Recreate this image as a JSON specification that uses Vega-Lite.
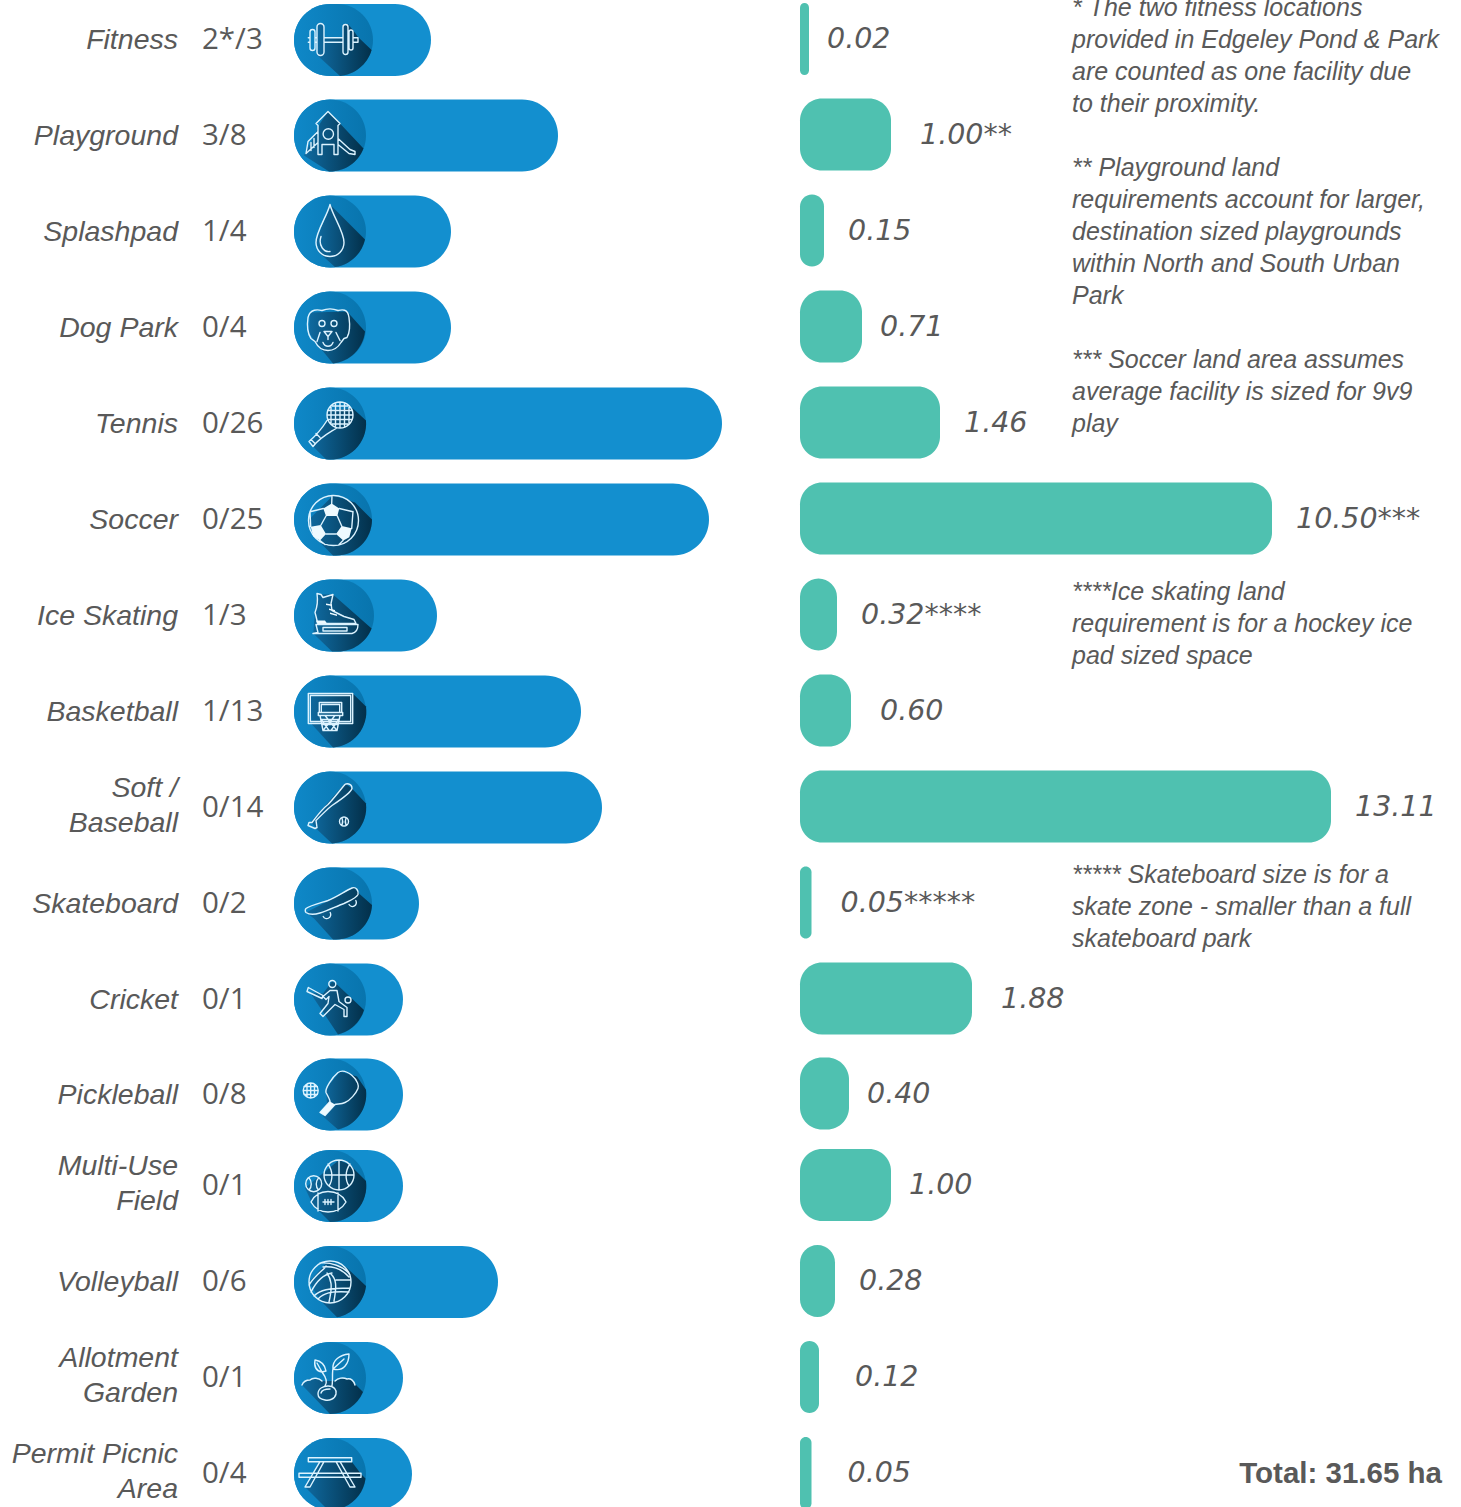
{
  "$schema": "https://vega.github.io/schema/vega-lite/v6.json",
  "width": 1461,
  "height": 1507,
  "padding": 0,
  "autosize": {"type": "none"},
  "background": "white",
  "config": {"view": {"stroke": null}},
  "datasets": {
    "facilities": [
      {"row": 1, "facility": "Fitness", "label": "Fitness", "count": "2*/3", "relative_length": 137, "ha": 0.02, "ha_label": "0.02"},
      {"row": 2, "facility": "Playground", "label": "Playground", "count": "3/8", "relative_length": 264, "ha": 1.0, "ha_label": "1.00**"},
      {"row": 3, "facility": "Splashpad", "label": "Splashpad", "count": "1/4", "relative_length": 157, "ha": 0.15, "ha_label": "0.15"},
      {"row": 4, "facility": "Dog Park", "label": "Dog Park", "count": "0/4", "relative_length": 157, "ha": 0.71, "ha_label": "0.71"},
      {"row": 5, "facility": "Tennis", "label": "Tennis", "count": "0/26", "relative_length": 428, "ha": 1.46, "ha_label": "1.46"},
      {"row": 6, "facility": "Soccer", "label": "Soccer", "count": "0/25", "relative_length": 415, "ha": 10.5, "ha_label": "10.50***"},
      {"row": 7, "facility": "Ice Skating", "label": "Ice Skating", "count": "1/3", "relative_length": 143, "ha": 0.32, "ha_label": "0.32****"},
      {"row": 8, "facility": "Basketball", "label": "Basketball", "count": "1/13", "relative_length": 287, "ha": 0.6, "ha_label": "0.60"},
      {"row": 9, "facility": "Softball", "label": "Soft /\nBaseball", "count": "0/14", "relative_length": 308, "ha": 13.11, "ha_label": "13.11"},
      {"row": 10, "facility": "Skateboard", "label": "Skateboard", "count": "0/2", "relative_length": 125, "ha": 0.05, "ha_label": "0.05*****"},
      {"row": 11, "facility": "Cricket", "label": "Cricket", "count": "0/1", "relative_length": 109, "ha": 1.88, "ha_label": "1.88"},
      {"row": 12, "facility": "Pickleball", "label": "Pickleball", "count": "0/8", "relative_length": 109, "ha": 0.4, "ha_label": "0.40"},
      {"row": 13, "facility": "Multi-Use", "label": "Multi-Use\nField", "count": "0/1", "relative_length": 109, "ha": 1.0, "ha_label": "1.00"},
      {"row": 14, "facility": "Volleyball", "label": "Volleyball", "count": "0/6", "relative_length": 204, "ha": 0.28, "ha_label": "0.28"},
      {"row": 15, "facility": "Allotment", "label": "Allotment\nGarden", "count": "0/1", "relative_length": 109, "ha": 0.12, "ha_label": "0.12"},
      {"row": 16, "facility": "Picnic", "label": "Permit Picnic\nArea", "count": "0/4", "relative_length": 118, "ha": 0.05, "ha_label": "0.05"}
    ],
    "notes": [
      {"row": 0.665, "note": "* The two fitness locations\nprovided in Edgeley Pond & Park\nare counted as one facility due\nto their proximity."},
      {"row": 2.339, "note": "** Playground land\nrequirements account for larger,\ndestination sized playgrounds\nwithin North and South Urban\nPark"},
      {"row": 4.339, "note": "*** Soccer land area assumes\naverage facility is sized for 9v9\nplay"},
      {"row": 6.755, "note": "****Ice skating land\nrequirement is for a hockey ice\npad sized space"},
      {"row": 9.703, "note": "***** Skateboard size is for a\nskate zone - smaller than a full\nskateboard park"}
    ],
    "total": [{"row": 16, "text": "Total: 31.65 ha"}]
  },
  "encoding": {
    "y": {
      "field": "row",
      "type": "quantitative",
      "axis": null,
      "scale": {
        "domain": [1, 2, 3, 4, 5, 6, 7, 8, 9, 10, 11, 12, 13, 14, 15, 16],
        "range": [40, 135.5, 231.5, 327.5, 423.5, 519.5, 615.5, 711.5, 807.5, 903.5, 999.5, 1094.5, 1186, 1282, 1378, 1474],
        "zero": false,
        "nice": false,
        "padding": 0
      }
    }
  },
  "resolve": {"scale": {"x": "independent"}},
  "layer": [
    {
      "data": {"name": "facilities"},
      "resolve": {"scale": {"shape": "independent"}},
      "layer": [
        {
          "mark": {"type": "bar", "orient": "horizontal", "height": 72, "cornerRadius": 36, "color": "#138fcf"},
          "encoding": {
            "x": {"field": "relative_length", "type": "quantitative", "axis": null, "stack": null, "scale": {"domain": [0, 428], "range": [294, 722], "nice": false, "zero": false, "padding": 0}}
          }
        },
        {
          "mark": {"type": "point", "filled": true, "size": 4, "opacity": 1, "xOffset": 36, "strokeWidth": 0,
            "fill": {"gradient": "linear", "x1": 0, "y1": 0, "x2": 1, "y2": 0, "stops": [{"offset": 0, "color": "#0f88c8"}, {"offset": 1, "color": "#0874ad"}]}},
          "encoding": {
            "x": {"datum": 0, "type": "quantitative"},
            "shape": {"field": "facility", "type": "nominal", "legend": null, "scale": {
              "domain": ["Fitness", "Playground", "Splashpad", "Dog Park", "Tennis", "Soccer", "Ice Skating", "Basketball", "Softball", "Skateboard", "Cricket", "Pickleball", "Multi-Use", "Volleyball", "Allotment", "Picnic"],
              "range": [
                "M-36 0A36 36 0 0 1 0 -36L7 -36A36 36 0 0 1 43 0A36 36 0 0 1 7 36L0 36A36 36 0 0 1 -36 0Z",
                "M-36 0A36 36 0 1 1 36 0A36 36 0 1 1 -36 0Z",
                "M-36 0A36 36 0 1 1 36 0A36 36 0 1 1 -36 0Z",
                "M-36 0A36 36 0 1 1 36 0A36 36 0 1 1 -36 0Z",
                "M-36 0A36 36 0 1 1 36 0A36 36 0 1 1 -36 0Z",
                "M-36 0A36 36 0 0 1 0 -36L6 -36A36 36 0 0 1 42 0A36 36 0 0 1 6 36L0 36A36 36 0 0 1 -36 0Z",
                "M-36 0A36 36 0 0 1 0 -36L8 -36A36 36 0 0 1 44 0A36 36 0 0 1 8 36L0 36A36 36 0 0 1 -36 0Z",
                "M-36 0A36 36 0 1 1 36 0A36 36 0 1 1 -36 0Z",
                "M-36 0A36 36 0 1 1 36 0A36 36 0 1 1 -36 0Z",
                "M-36 0A36 36 0 0 1 0 -36L6 -36A36 36 0 0 1 42 0A36 36 0 0 1 6 36L0 36A36 36 0 0 1 -36 0Z",
                "M-36 0A36 36 0 1 1 36 0A36 36 0 1 1 -36 0Z",
                "M-36 0A36 36 0 1 1 36 0A36 36 0 1 1 -36 0Z",
                "M-36 0A36 36 0 1 1 36 0A36 36 0 1 1 -36 0Z",
                "M-36 0A36 36 0 1 1 36 0A36 36 0 1 1 -36 0Z",
                "M-36 0A36 36 0 1 1 36 0A36 36 0 1 1 -36 0Z",
                "M-36 0A36 36 0 1 1 36 0A36 36 0 1 1 -36 0Z"
              ]
            }}
          }
        },
        {
          "mark": {"type": "point", "filled": true, "size": 4, "opacity": 1, "xOffset": 36, "strokeWidth": 0,
            "fill": {"gradient": "linear", "x1": 0, "y1": 0, "x2": 1, "y2": 0, "stops": [{"offset": 0, "color": "#0f6aa0"}, {"offset": 1, "color": "#03304a"}]}},
          "encoding": {
            "x": {"datum": 0, "type": "quantitative"},
            "shape": {"field": "facility", "type": "nominal", "legend": null, "scale": {
              "domain": ["Fitness", "Playground", "Splashpad", "Dog Park", "Tennis", "Soccer", "Ice Skating", "Basketball", "Softball", "Skateboard", "Cricket", "Pickleball", "Multi-Use", "Volleyball", "Allotment", "Picnic"],
              "range": [
                "M-13 -16L-6 -16L-6 -2.3L13 -2.3L13 -16L18 -16L23 -10L28 -3L41.6 10A36 36 0 0 1 10 35.9L-13 15Z",
                "M-2 -24L10 -12L33.5 13A36 36 0 0 1 -1 36L-26 20L-18 5L-10 -12Z",
                "M0 -27L35 8A36 36 0 0 1 5 35.6L-10 22L-14 10Z",
                "M-20 -15L17 -16L35 4A36 36 0 0 1 3 36L-15 14L-21 5Z",
                "M-3 -13L23 -15L36 -3A36 36 0 0 1 -4 35.8L-20 20L-3 -2Z",
                "M3 -24L25 -17L42 0A36 36 0 0 1 6 36L3 36L-14 19L-22 1Z",
                "M-13 -21L3 -21L41.6 13A36 36 0 0 1 8 36L2 36L-16.7 18L-15 -5Z",
                "M-21 -17L22.7 -18L36 -5A36 36 0 0 1 3 36L-18 13Z",
                "M15 -24L22 -19L36 -4A36 36 0 0 1 2 36L-14 21L-19 14Z",
                "M24 -16L29 -10L42 1.5A36 36 0 0 1 6 36L3 36L-16 15L-24 9Z",
                "M-20 -7L-7 -6L2 -18L7 -15L34 10.5A36 36 0 0 1 8 35Z",
                "M10 -23L27 -18L36 -4.7A36 36 0 0 1 8 35L-7 22L-3 10L-4 -6Z",
                "M9 -26L20 -21L36 -5A36 36 0 0 1 0 36L-17 19L-25 2Z",
                "M-2 -21L17 -14L36 4A36 36 0 0 1 7 35.3L-10 18L-21 0Z",
                "M-28 7C-24 0 -14 -1 -8 3L6 3C12 -1 21 -1 25 6L33 14A36 36 0 0 1 0 36Z",
                "M-10 -12L22 -12L31 0L35.5 4.5A36 36 0 0 1 -2 36L-25 13Z"
              ]
            }}
          }
        },
        {
          "mark": {"type": "point", "filled": false, "size": 4, "opacity": 1, "xOffset": 36, "stroke": "#dcf3ff", "strokeWidth": 1.4, "strokeJoin": "round", "strokeCap": "round"},
          "encoding": {
            "x": {"datum": 0, "type": "quantitative"},
            "shape": {"field": "facility", "type": "nominal", "legend": null, "scale": {
              "domain": ["Fitness", "Playground", "Splashpad", "Dog Park", "Tennis", "Soccer", "Ice Skating", "Basketball", "Softball", "Skateboard", "Cricket", "Pickleball", "Multi-Use", "Volleyball", "Allotment", "Picnic"],
              "range": [
                "M-21.7 -2.3L-20 -2.3M-15 -2.3L-13 -2.3M-6 -2.3L13 -2.3M18 -2.3L19 -2.3M23 -2.3L28 -2.3L28 2.3L23 2.3M19 2.3L18 2.3M13 2.3L-6 2.3M-13 2.3L-15 2.3M-20 2.3L-21.7 2.3ZM-20 -8A2.5 2.5 0 0 1 -15 -8L-15 8A2.5 2.5 0 0 1 -20 8ZM-13 -13A3.5 3.5 0 0 1 -6 -13L-6 12A3.5 3.5 0 0 1 -13 12ZM13 -13A2.5 2.5 0 0 1 18 -13L18 12A2.5 2.5 0 0 1 13 12ZM19 -8A2 2 0 0 1 23 -8L23 8A2 2 0 0 1 19 8Z",
                "M-2 -24L10 -12L8 -10L8 19L4 19L4 9L-8 9L-8 19L-12 19L-12 -10L-14 -12ZM3.5 -1.5A5.2 5.2 0 1 1 -6.9 -1.5A5.2 5.2 0 1 1 3.5 -1.5ZM8 3L20 14L25 16L25 19L19 18L8 9M-12 -4L-22 6L-24 18L-12 7M-19 7L-19 15M-16 3L-16 12",
                "M0 -27C-3 -15 -14 0 -14 11A14 14 0 0 0 14 11C14 0 3 -15 0 -27ZM-9 5C-12 14 -6 21 0 20",
                "M-22 -10C-20 -19 -12 -18 -8 -17C-3 -19 3 -19 8 -17C12 -18 18 -19 19 -10C20 -3 20 5 17 10L14 11L11 15C8 20 3 23 -2 23C-7 23 -12 20 -15 14L-19 11C-23 5 -23 -3 -22 -10ZM-11 -4A3 3 0 1 1 -5 -4A3 3 0 1 1 -11 -4ZM1 -4A3 3 0 1 1 7 -4A3 3 0 1 1 1 -4ZM-6 4L2 4L-2 9ZM-2 9L-2 12M-10 5L-13 14M6 5L10 13M-7 15C-5 20 1 20 3 15",
                "M23 -8.5A13 13 0 1 1 -3 -8.5A13 13 0 1 1 23 -8.5ZM-3 -3C-8 5 -14 12 -21 18L-17 23C-10 14 -2 10 6 5M-19 16L-15 20M-14 10L-10 14M2.1 -17.5L17.9 -17.5M-1.1 -13L21.1 -13M-2 -8.5L22 -8.5M-1.1 -4L21.1 -4M2.1 0.5L17.9 0.5M1 -16.4L1 -0.6M5.5 -19.6L5.5 2.6M10 -20.5L10 3.5M14.5 -19.6L14.5 2.6M19 -16.4L19 -0.6",
                "M28.5 1A25 25 0 1 1 -21.5 1A25 25 0 1 1 28.5 1ZM-4 -3.5L-9 5.5M7.3 -3.5L11.7 6.5M-4 14.5L6 14.5M-6.7 -11L-19 -8M9.3 -11L22 -8M-19.3 7L-20 -8M21.7 9L23 -8M-10 21L-5 25M13 21L9 25M1.7 -16L2 -24",
                "M-13 -22L-9 -21L-7 -18L3 -21L1 -12L2 -5L14 1L24 4L26 8L-12 8C-13 6 -13 4 -15 -3C-13 -8 -12 -15 -13 -22ZM-14 9L-12 17L-17 18L22 18C26 17 28 13 28 9ZM-7 12L17 12L17 15.5L-7 15.5Z",
                "M-21.7 -18L22.7 -18L22.7 12L-21.7 12ZM-19.7 -16L20.7 -16L20.7 10L-19.7 10ZM-10.7 1L-10.7 -9L11.7 -9L11.7 1M-8.7 1L-8.7 -7L9.7 -7L9.7 1M-11.7 1L12.7 1L12.7 4L-11.7 4ZM-10 4L-7 19L7 19L10 4M-7 19L5 4M7 19L-5 4M-8 9L-1 19M8 9L1 19M-9 8L9 8M-8 13L8 13",
                "M14 -22C16 -25 22 -24 22 -19C21 -15 8 -6 2 -2C-1 0 -8 7 -14 13L-13 20L-15 21L-22 18L-21 15L-18 15C-12 7 -6 0 -2 -3C2 -7 10 -17 14 -22ZM18.5 14A4.5 4.5 0 1 1 9.5 14A4.5 4.5 0 1 1 18.5 14ZM12 10.5C13 13 13 15 12 17.5M16 10.5C15 13 15 15 16 17.5",
                "M-24 5C-20 2 -8 -1 -2 -3C6 -6 16 -13 22 -15.5C26 -17 29 -13 28 -9C26 -5 20 -3 14 0C6 3 -2 7 -10 9.5C-15 11 -21 11 -24 9C-25 8 -25 6 -24 5ZM0.2 9A3.5 3.5 0 1 1 -6.8 13A3.5 3.5 0 0 0 0.2 9ZM25.8 -3A3.5 3.5 0 1 1 19 1",
                "M5.8 -15.5A3.5 3.5 0 1 1 -1.2 -15.5A3.5 3.5 0 1 1 5.8 -15.5ZM21 0.5A3 3 0 1 1 15 0.5A3 3 0 1 1 21 0.5ZM-21.7 -12L-7 -4L-8 -1L-23 -8ZM-7 -3L0 -9L7 -9L9 2L17 8L17 17L14 17L14 10L5 5L-7 17L-10 14L-2 4L-1 -3L-4 0Z",
                "M8 -22C11 -24 16 -24 22 -19C28 -14 29 -8 28 -6C26 -1 20 6 15 8C11 10 7 9 5 10L-5 21L-10 18L0 7C0 5 -2 2 -4 -2C-5 -6 2 -17 8 -22ZM-11.8 -4A7.5 7.5 0 1 1 -26.8 -4A7.5 7.5 0 1 1 -11.8 -4ZM-26 -8L-12.6 -8M-26.8 -4L-11.8 -4M-26 0L-12.6 0M-23 -10.5L-23 2.5M-19.3 -11.5L-19.3 3.5M-15.5 -10.5L-15.5 2.5",
                "M24 -11A15 15 0 1 1 -6 -11A15 15 0 1 1 24 -11ZM-6 -11L24 -11M9 -26L9 4M-2 -22C3 -15 3 -6 -1 0M20 -22C15 -15 15 -6 19 0M-8.3 -2.3A8 8 0 1 1 -24.3 -2.3A8 8 0 1 1 -8.3 -2.3ZM-21 -8C-18 -5 -18 1 -21 4M-11.5 -8C-14.5 -5 -14.5 1 -11.5 4M-19 16C-15 8 -8 5.5 -2 5.5C5 5.5 12 8 16 16C12 23 5 26 -2 26C-8 26 -15 23 -19 16ZM-12 7L-12 25M8 7L8 25M-7 16L4 16M-5 13.5L-5 18.5M-2 13.5L-2 18.5M1 13.5L1 18.5",
                "M21 0A21 21 0 1 1 -21 0A21 21 0 1 1 21 0ZM-10 -19C0 -20 14 -16 20 -7M-7 -15C3 -16 12 -13 19 -5M-21 3C-14 -8 -5 -13 -4 -16M-19 10C-12 -4 -4 -8 2 -9M-3 -9C1 -3 3 3 -1 20M1 -8C6 -3 7 3 4 19M-16 14C-10 8 -2 6 20 6M-12 17C-6 11 0 9 19 10M6 -2L21 -2",
                "M-28 7C-26 2 -22 2 -20 2C-17 -1 -11 0 -8 3M5 3C8 0 13 -1 17 1C21 0 24 3 25 7M-12 16C-12 10 -6 8 -2 8C4 8 7 12 6 16C5 21 -1 23 -5 22C-9 21 -12 20 -12 16ZM-9 15C-8 11 -3 11 0 11M-5 8C-2 4 -5 -2 -8 -6M2 8C3 2 2 -6 3 -9M3 -9C2 -18 10 -23 19 -24C19 -15 14 -6 3 -9ZM3 -9L14 -19M-8 -6C-14 -7 -16 -12 -15 -18C-9 -17 -5 -13 -4 -7ZM-8 -6L-13 -15",
                "M-21.7 -16.3L21.7 -16.3L21.7 -12.3L-21.7 -12.3ZM-31 -0.7L31 -0.7L31 3.3L-31 3.3ZM-10 -12.3L-25 13L-20 13L-6 -12.3M6 -12.3L20 13L25 13L10 -12.3"
              ]
            }}
          }
        },
        {
          "transform": [{"filter": {"field": "facility", "oneOf": ["Soccer", "Ice Skating", "Pickleball"]}}],
          "mark": {"type": "point", "filled": true, "size": 4, "opacity": 1, "xOffset": 36, "color": "#eefaff", "strokeWidth": 0},
          "encoding": {
            "x": {"datum": 0, "type": "quantitative"},
            "shape": {"field": "facility", "type": "nominal", "legend": null, "scale": {
              "domain": ["Soccer", "Ice Skating", "Pickleball"],
              "range": [
                "M-6.7 -11L1.7 -16L9.3 -11L7.3 -3.5L-4 -3.5ZM-19.3 7.2L-9.3 5.5L-4 14.5L-10 21L-16.7 17ZM6 14.5L11.7 6.5L21.7 8.8L19.3 17.8L13.3 21Z",
                "M-4 -12L2 -11L2 -9.5L-4 -10.5ZM-1 -7L5 -5.5L5 -4L-1 -5.5ZM0 -3L7 -1L7 0.5L0 -1.5ZM-14 5L-5 5L-3 8L-13 8Z",
                "M-10 18L0 7L5 10L-5 21Z"
              ]
            }}
          }
        },
        {
          "transform": [{"filter": {"not": {"field": "facility", "oneOf": ["Softball", "Multi-Use", "Allotment", "Picnic"]}}}],
          "mark": {"type": "text", "align": "right", "baseline": "middle", "dx": -116, "font": "Liberation Sans", "fontStyle": "italic", "fontSize": 28.5, "color": "#595959"},
          "encoding": {
            "x": {"datum": 0, "type": "quantitative"},
            "text": {"field": "label", "type": "nominal"}
          }
        },
        {
          "transform": [{"filter": {"field": "facility", "oneOf": ["Softball", "Multi-Use", "Allotment", "Picnic"]}}],
          "mark": {"type": "text", "align": "right", "baseline": "middle", "dx": -116, "yOffset": -20, "font": "Liberation Sans", "fontStyle": "italic", "fontSize": 28.5, "lineHeight": 35, "lineBreak": "\n", "color": "#595959"},
          "encoding": {
            "x": {"datum": 0, "type": "quantitative"},
            "text": {"field": "label", "type": "nominal"}
          }
        },
        {
          "mark": {"type": "text", "align": "left", "baseline": "middle", "dx": -92, "font": "Open Sans", "fontSize": 29.5, "color": "#595959"},
          "encoding": {
            "x": {"datum": 0, "type": "quantitative"},
            "text": {"field": "count", "type": "nominal"}
          }
        }
      ]
    },
    {
      "layer": [
        {
          "data": {"name": "facilities"},
          "layer": [
            {
              "mark": {"type": "bar", "orient": "horizontal", "height": 72, "cornerRadius": 22, "yOffset": -1, "color": "#4fc1b0"},
              "encoding": {
                "x": {"field": "ha", "type": "quantitative", "axis": null, "stack": null, "scale": {
                  "domain": [0, 0.02, 0.05, 0.12, 0.15, 0.28, 0.32, 0.4, 0.6, 0.71, 1, 1.46, 1.88, 10.5, 13.11],
                  "range": [800, 809, 811.5, 819, 824, 835, 837, 849, 851, 862, 891, 940, 972, 1272, 1331],
                  "nice": false, "zero": false, "padding": 0}}
              }
            },
            {
              "transform": [{"filter": {"field": "row", "oneOf": [3, 5, 6, 7, 9, 14]}}],
              "mark": {"type": "text", "align": "left", "baseline": "middle", "dx": 24, "yOffset": -1, "font": "DejaVu Sans", "fontStyle": "italic", "fontSize": 28.5, "color": "#595959"},
              "encoding": {"x": {"field": "ha", "type": "quantitative"}, "text": {"field": "ha_label", "type": "nominal"}}
            },
            {
              "transform": [{"filter": {"field": "row", "oneOf": [1, 4, 12, 13]}}],
              "mark": {"type": "text", "align": "left", "baseline": "middle", "dx": 18, "yOffset": -1, "font": "DejaVu Sans", "fontStyle": "italic", "fontSize": 28.5, "color": "#595959"},
              "encoding": {"x": {"field": "ha", "type": "quantitative"}, "text": {"field": "ha_label", "type": "nominal"}}
            },
            {
              "transform": [{"filter": {"field": "row", "oneOf": [2, 8, 10, 11]}}],
              "mark": {"type": "text", "align": "left", "baseline": "middle", "dx": 29, "yOffset": -1, "font": "DejaVu Sans", "fontStyle": "italic", "fontSize": 28.5, "color": "#595959"},
              "encoding": {"x": {"field": "ha", "type": "quantitative"}, "text": {"field": "ha_label", "type": "nominal"}}
            },
            {
              "transform": [{"filter": {"field": "row", "oneOf": [15, 16]}}],
              "mark": {"type": "text", "align": "left", "baseline": "middle", "dx": 36, "yOffset": -1, "font": "DejaVu Sans", "fontStyle": "italic", "fontSize": 28.5, "color": "#595959"},
              "encoding": {"x": {"field": "ha", "type": "quantitative"}, "text": {"field": "ha_label", "type": "nominal"}}
            }
          ]
        },
        {
          "data": {"name": "notes"},
          "mark": {"type": "text", "align": "left", "baseline": "middle", "dx": 272, "font": "Liberation Sans", "fontStyle": "italic", "fontSize": 25, "lineHeight": 32, "lineBreak": "\n", "color": "#595959"},
          "encoding": {
            "x": {"datum": 0, "type": "quantitative"},
            "text": {"field": "note", "type": "nominal"}
          }
        },
        {
          "data": {"name": "total"},
          "mark": {"type": "text", "align": "right", "baseline": "middle", "dx": 642, "font": "Liberation Sans", "fontWeight": "bold", "fontSize": 29.5, "color": "#595959"},
          "encoding": {
            "x": {"datum": 0, "type": "quantitative"},
            "text": {"field": "text", "type": "nominal"}
          }
        }
      ]
    }
  ]
}
